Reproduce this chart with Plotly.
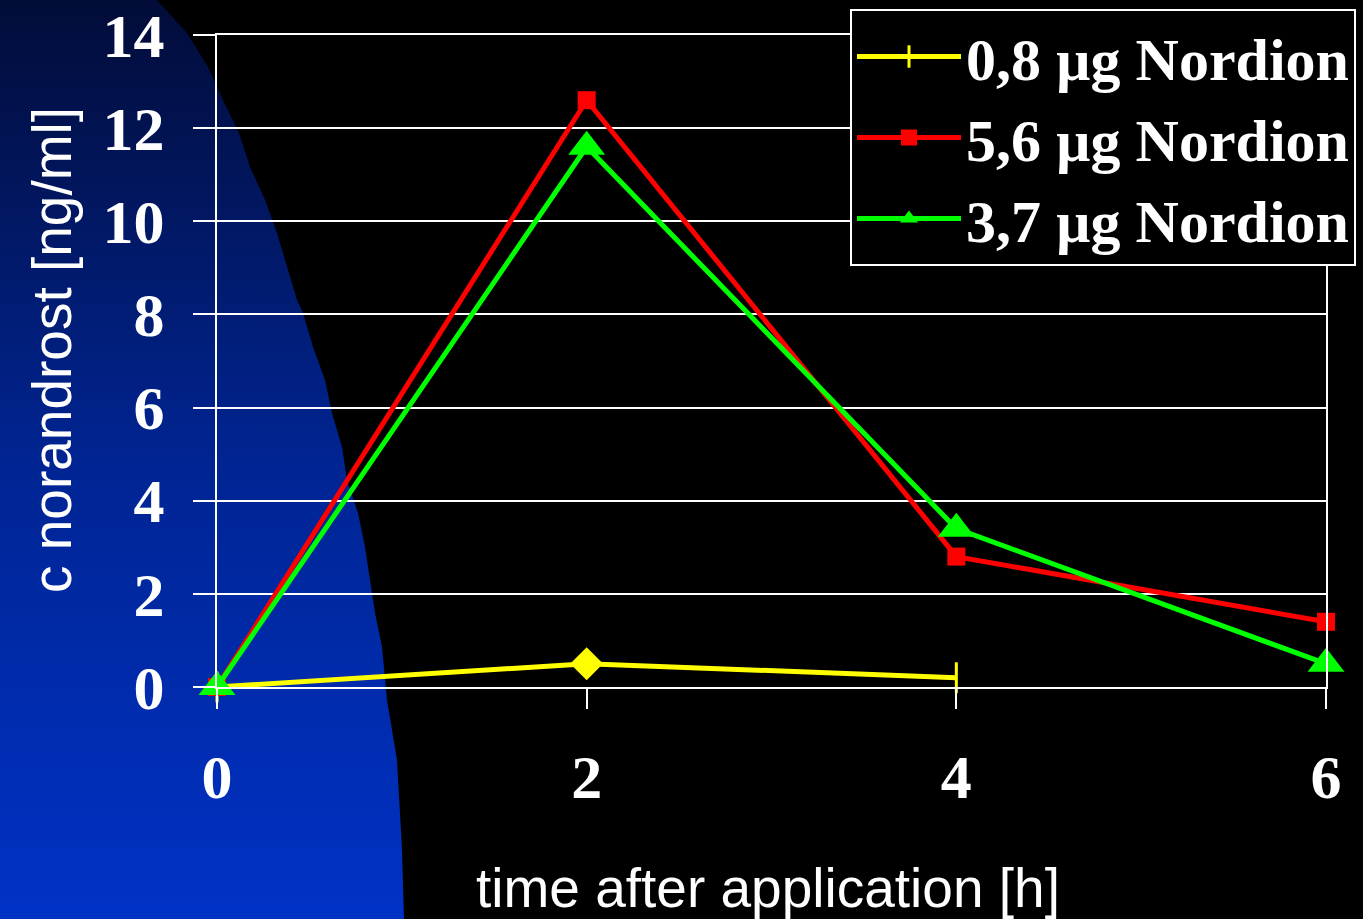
import plotly.graph_objects as go

# ---------------- data ----------------
time_h = [0, 2, 4, 6]
series_names = ["0,8 µg Nordion", "5,6 µg Nordion", "3,7 µg Nordion"]
y_08 = [0.0, 0.5, 0.2]
y_56 = [0.0, 12.6, 2.8, 1.4]
y_37 = [0.0, 11.6, 3.4, 0.5]
y_ticks = [0, 2, 4, 6, 8, 10, 12, 14]
x_ticks = [0, 2, 4, 6]

# ---------------- decoration (background blue swoosh, pixel coords) ----------------
W, H = 1363, 919
bg_edge_x = [157, 187, 208, 223, 239, 250, 265, 277, 287, 297, 303, 313, 325, 332,
             342, 347, 358, 365, 370, 375, 382, 385, 387, 397, 402, 404]
bg_edge_y = [0, 33, 67, 100, 133, 167, 200, 233, 267, 300, 313, 347, 380, 413,
             447, 480, 513, 547, 580, 613, 647, 680, 700, 760, 850, 919]

# plot area in pixels
PX_L, PX_R, PX_T, PX_B = 217, 1326, 35, 687

fig = go.Figure()

# background subplot (full page)
bx = [0] + bg_edge_x + [0, 0]
by = [H] + [H - v for v in bg_edge_y] + [0, H]
fig.add_trace(go.Scatter(
    x=bx, y=by, mode="lines", fill="toself",
    line=dict(width=0, color="rgba(0,0,0,0)"),
    fillgradient=dict(type="vertical",
                      colorscale=[[0, "rgb(0,50,198)"], [0.5, "rgb(0,36,146)"], [1, "rgb(2,12,56)"]],
                      start=0, stop=H),
    hoverinfo="skip", showlegend=False, xaxis="x", yaxis="y"))

# data traces
fig.add_trace(go.Scatter(
    x=time_h[:len(y_08)], y=y_08, name=series_names[0], mode="lines+markers",
    line=dict(color="#ffff00", width=5),
    marker=dict(symbol=["line-ns", "diamond", "line-ns"], size=[22, 22, 22], color="#ffff00",
                opacity=1, line=dict(color="#ffff00", width=3)),
    cliponaxis=False, xaxis="x2", yaxis="y2"))
fig.add_trace(go.Scatter(
    x=time_h, y=y_56, name=series_names[1], mode="lines+markers",
    line=dict(color="#ff0000", width=5),
    marker=dict(symbol="square", size=18, color="#ff0000"),
    cliponaxis=False, xaxis="x2", yaxis="y2"))
fig.add_trace(go.Scatter(
    x=time_h, y=y_37, name=series_names[2], mode="lines+markers",
    line=dict(color="#00ff00", width=5),
    marker=dict(symbol="triangle-up", size=32, color="#00ff00"),
    cliponaxis=False, xaxis="x2", yaxis="y2"))

tick_font = dict(family="Liberation Serif, Times New Roman, serif", size=62, color="white", weight="bold")
title_font = dict(family="Liberation Sans, Arial, sans-serif", size=55, color="white")

fig.update_layout(
    width=W, height=H,
    margin=dict(l=0, r=0, t=0, b=0, pad=0, autoexpand=False),
    paper_bgcolor="black",
    plot_bgcolor="rgba(0,0,0,0)",
    showlegend=True,
    xaxis=dict(domain=[0, 1], range=[0, W], visible=False, fixedrange=True),
    yaxis=dict(domain=[0, 1], range=[0, H], visible=False, fixedrange=True),
    xaxis2=dict(domain=[PX_L / W, PX_R / W], range=[0, 6], anchor="y2",
                tickvals=x_ticks, ticktext=[str(v) for v in x_ticks],
                showgrid=False, zeroline=False,
                showline=True, mirror=True, linecolor="white", linewidth=2,
                ticks="outside", ticklen=20, tickwidth=2, tickcolor="white",
                tickfont=tick_font, ticklabelstandoff=15),
    yaxis2=dict(domain=[1 - PX_B / H, 1 - PX_T / H], range=[0, 14], anchor="x2",
                tickvals=y_ticks, ticktext=[str(v) for v in y_ticks],
                showgrid=True, gridcolor="white", gridwidth=2, zeroline=False,
                showline=True, mirror=True, linecolor="white", linewidth=2,
                ticks="outside", ticklen=22, tickwidth=2, tickcolor="white",
                tickfont=tick_font, ticklabelstandoff=16),
    legend=dict(x=850 / W, y=1 - 9 / H, xanchor="left", yanchor="top",
                bgcolor="black", bordercolor="white", borderwidth=2,
                font=dict(family="Liberation Serif, Times New Roman, serif", size=60,
                          color="white", weight="bold"),
                itemwidth=104),
    annotations=[
        dict(text="time after application [h]", xref="paper", yref="paper",
             x=768 / W, y=1 - 888 / H, xanchor="center", yanchor="middle",
             showarrow=False, font=title_font),
        dict(text="c norandrost [ng/ml]", xref="paper", yref="paper", textangle=-90,
             x=52 / W, y=1 - 350 / H, xanchor="center", yanchor="middle",
             showarrow=False, font=title_font),
    ],
)

fig.write_html("out.html")
